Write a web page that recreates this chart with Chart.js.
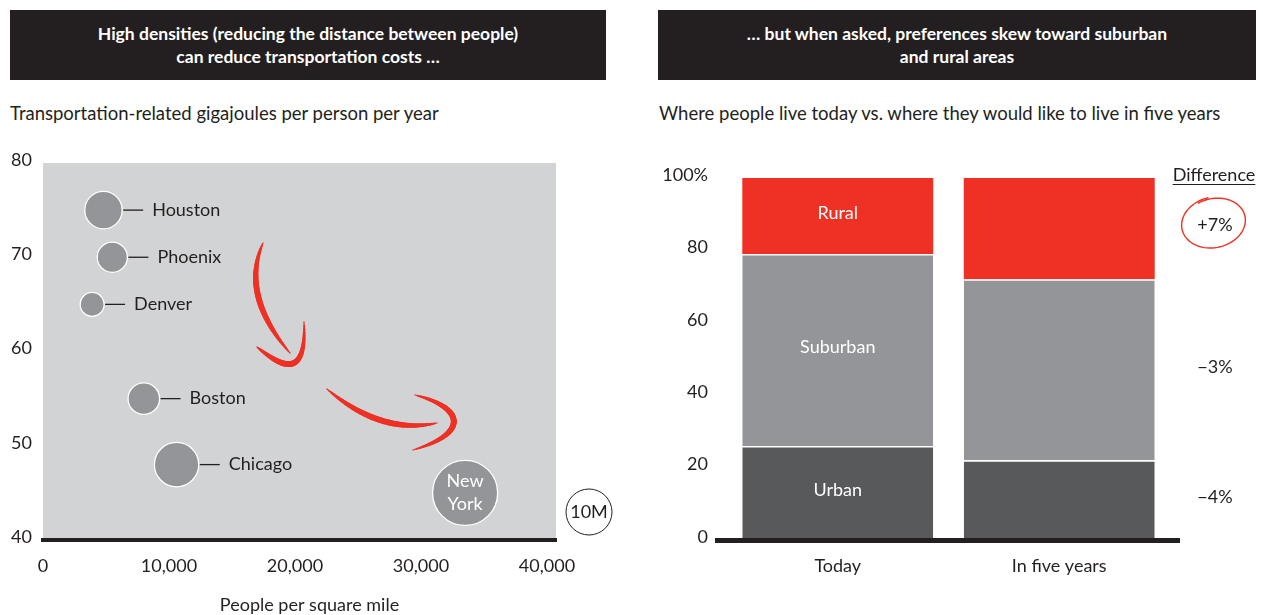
<!DOCTYPE html>
<html>
<head>
<meta charset="utf-8">
<script src="https://cdn.jsdelivr.net/npm/chart.js@4.4.1/dist/chart.umd.min.js"></script>
<style>
  body { margin: 0; width: 1263px; height: 615px; background: #fff; position: relative; overflow: hidden;
         font-family: Lato, "Noto Sans", sans-serif; color: #231f20; }
  .hdr { position: absolute; top: 10px; height: 70px; background: #231f20; color: #fff;
         font-weight: 700; font-size: 17.5px; line-height: 23px; text-align: center;
         display: flex; align-items: center; justify-content: center; }
  .sub { position: absolute; top: 101px; font-size: 18.5px; line-height: 24px; white-space: nowrap; }
  canvas { position: absolute; }
</style>
</head>
<body>
<div class="hdr" style="left:10px; width:596px;">High densities (reducing the distance between people)<br>can reduce transportation costs …</div>
<div class="hdr" style="left:658px; width:598px;">… but when asked, preferences skew toward suburban<br>and rural areas</div>
<div class="sub" style="left:10px;">Transportation-related gigajoules per person per year</div>
<div class="sub" style="left:659px;">Where people live today vs. where they would like to live in five years</div>
<canvas id="density" width="630" height="495" style="left:0px; top:120px;"></canvas>
<canvas id="prefs" width="623" height="475" style="left:640px; top:140px;"></canvas>
<script>
// 왼쪽: 도시별 인구밀도 vs 교통 에너지
const cities = ['Houston', 'Phoenix', 'Denver', 'Boston', 'Chicago', 'New York'];
const peoplePerSqMile = [4800, 5500, 3900, 8000, 10600, 33500];
const gigajoules = [75, 70, 65, 55, 48, 45];
const populationM = [6.6, 4.3, 2.7, 4.7, 9.3, 20.0];
const densityTicks = [0, 10000, 20000, 30000, 40000];
const legendPopM = 10;

// 오른쪽: 현재 vs 5년 후 거주 희망
const periods = ['Today', 'In five years'];
const areaNames = ['Urban', 'Suburban', 'Rural'];
const urbanShare = [26, 22];
const suburbanShare = [53, 50];
const ruralShare = [21, 28];
const shareTicks = [0, 20, 40, 60, 80, 100];

const ink = '#231f20';
const red = '#ee3124';
const fontFamily = 'Lato, "Noto Sans", sans-serif';
const labelSize = 18;
const numberFormatter = new Intl.NumberFormat('en-US');

Chart.defaults.font.family = fontFamily;
Chart.defaults.color = ink;

// 면적 비례: 10M 범례 원 반지름 23px 기준
const radiusFor = (pop) => 23 * Math.sqrt(pop / legendPopM);

// 붓 터치 느낌의 곡선
function brush(ctx, pts, width) {
    const steps = 48;
    const at = (t) => {
        const u = 1 - t;
        if (pts.length === 3) {
            return {
                x: u * u * pts[0][0] + 2 * u * t * pts[1][0] + t * t * pts[2][0],
                y: u * u * pts[0][1] + 2 * u * t * pts[1][1] + t * t * pts[2][1]
            };
        }
        return {
            x: u * u * u * pts[0][0] + 3 * u * u * t * pts[1][0] + 3 * u * t * t * pts[2][0] + t * t * t * pts[3][0],
            y: u * u * u * pts[0][1] + 3 * u * u * t * pts[1][1] + 3 * u * t * t * pts[2][1] + t * t * t * pts[3][1]
        };
    };
    let prev = at(0);
    for (let i = 1; i <= steps; i += 1) {
        const t = i / steps;
        const p = at(t);
        ctx.lineWidth = 0.6 + width * Math.pow(Math.sin(Math.PI * (t - 0.5 / steps)), 0.6);
        ctx.beginPath();
        ctx.moveTo(prev.x, prev.y);
        ctx.lineTo(p.x, p.y);
        ctx.stroke();
        prev = p;
    }
}

const plotBackground = {
    id: 'plotBackground',
    beforeDraw(chart) {
        const { ctx, chartArea } = chart;
        ctx.save();
        ctx.fillStyle = '#d1d3d4';
        ctx.fillRect(chartArea.left, chartArea.top, chartArea.right - chartArea.left, chartArea.bottom - chartArea.top);
        ctx.restore();
    }
};

const redArrows = {
    id: 'redArrows',
    beforeDatasetsDraw(chart) {
        const { ctx, chartArea } = chart;
        const L = chartArea.left;
        const T = chartArea.top;
        const shift = (list) => list.map(([x, y]) => [L + x, T + y]);
        ctx.save();
        ctx.strokeStyle = red;
        ctx.lineCap = 'round';
        brush(ctx, shift([[220, 80], [197, 132], [247, 190]]), 5.2);
        brush(ctx, shift([[214, 184], [234, 200], [264, 222], [261, 159]]), 5.2);
        brush(ctx, shift([[284, 226], [338, 272], [394, 260]]), 5.2);
        brush(ctx, shift([[372, 232], [420, 244], [428, 270], [370, 287]]), 5.2);
        ctx.restore();
    }
};

const bubbleLabels = {
    id: 'bubbleLabels',
    afterDatasetsDraw(chart) {
        const { ctx, chartArea } = chart;
        const meta = chart.getDatasetMeta(0);
        ctx.save();
        ctx.font = `${labelSize}px ${fontFamily}`;
        ctx.textBaseline = 'middle';
        meta.data.forEach((pt, i) => {
            const { x, y } = pt.getProps(['x', 'y'], true);
            const r = radiusFor(populationM[i]);
            if (cities[i] === 'New York') {
                ctx.fillStyle = '#ffffff';
                ctx.textAlign = 'center';
                ctx.fillText('New', x, y - 12);
                ctx.fillText('York', x, y + 11);
                return;
            }
            ctx.strokeStyle = ink;
            ctx.lineWidth = 1.3;
            ctx.beginPath();
            ctx.moveTo(x + r + 1, y);
            ctx.lineTo(x + r + 21, y);
            ctx.stroke();
            ctx.fillStyle = ink;
            ctx.textAlign = 'left';
            ctx.fillText(cities[i], x + r + 30, y);
        });

        // 10M 범례 원
        const lr = radiusFor(legendPopM);
        const lx = chartArea.right + 33;
        const ly = chartArea.bottom - 28;
        ctx.beginPath();
        ctx.arc(lx, ly, lr, 0, Math.PI * 2);
        ctx.fillStyle = '#ffffff';
        ctx.fill();
        ctx.strokeStyle = ink;
        ctx.lineWidth = 1;
        ctx.stroke();
        ctx.fillStyle = ink;
        ctx.textAlign = 'center';
        ctx.fillText(`${legendPopM}M`, lx, ly);

        // x축 제목
        ctx.fillText('People per square mile', (chartArea.left + chartArea.right) / 2 + 10, chartArea.bottom + 65);
        ctx.restore();
    }
};

new Chart(document.getElementById('density'), {
    type: 'bubble',
    plugins: [plotBackground, redArrows, bubbleLabels],
    data: {
        datasets: [{
            data: cities.map((c, i) => ({ x: peoplePerSqMile[i], y: gigajoules[i], r: radiusFor(populationM[i]) })),
            backgroundColor: '#939598',
            borderColor: '#ffffff',
            borderWidth: 1.3,
            clip: false
        }]
    },
    options: {
        responsive: false,
        animation: false,
        events: [],
        layout: { padding: { top: 43, right: 74, bottom: 0, left: 0 } },
        plugins: { legend: { display: false }, tooltip: { enabled: false } },
        scales: {
            x: {
                type: 'linear',
                min: densityTicks[0],
                max: 40714,
                afterBuildTicks(scale) { scale.ticks = densityTicks.map((v) => ({ value: v })); },
                afterFit(scale) { scale.height = 75; },
                grid: { display: false, drawTicks: false },
                border: { display: true, color: ink, width: 4 },
                ticks: {
                    padding: 15,
                    font: { size: labelSize },
                    color: ink,
                    callback(value) { return numberFormatter.format(value); }
                }
            },
            y: {
                type: 'linear',
                min: 40,
                max: 80,
                afterFit(scale) { scale.width = 43; },
                grid: { display: false, drawTicks: false },
                border: { display: false },
                ticks: { stepSize: 10, padding: 11, labelOffset: -3, font: { size: labelSize }, color: ink }
            }
        }
    }
});

// 오른쪽 차트: 막대 안 라벨, 차이 열, 기준선
const barAnnotations = {
    id: 'barAnnotations',
    afterDatasetsDraw(chart) {
        const { ctx, chartArea, scales } = chart;
        const y = scales.y;
        const shares = [urbanShare, suburbanShare, ruralShare];
        ctx.save();

        // 기준선 (막대 영역보다 양옆으로 길게)
        ctx.fillStyle = ink;
        ctx.fillRect(chartArea.left - 12, chartArea.bottom - 2, chartArea.right - chartArea.left + 22, 5);

        ctx.font = `${labelSize}px ${fontFamily}`;
        ctx.textBaseline = 'middle';
        ctx.textAlign = 'center';

        // 첫 막대 안 라벨
        const todayX = scales.x.getPixelForValue(0);
        let base = 0;
        shares.forEach((s, k) => {
            ctx.fillStyle = '#ffffff';
            ctx.fillText(areaNames[k], todayX, y.getPixelForValue(base + s[0] / 2) - 3);
            base += s[0];
        });

        // Difference 열
        const diffX = chartArea.right + 44;
        ctx.fillStyle = ink;
        const headY = y.getPixelForValue(100) - 3;
        ctx.fillText('Difference', diffX, headY);
        const w = ctx.measureText('Difference').width;
        ctx.fillRect(diffX - w / 2, headY + 9, w, 1);

        base = 0;
        shares.forEach((s, k) => {
            const d = s[1] - s[0];
            const label = (d > 0 ? '+' : '\u2212') + Math.abs(d) + '%';
            const cy = y.getPixelForValue(base + s[1] / 2) - 3;
            ctx.fillStyle = ink;
            ctx.fillText(label, diffX + 1, cy);
            if (d > 0) {
                // 손으로 그린 빨간 타원
                ctx.strokeStyle = red;
                ctx.lineWidth = 1.4;
                ctx.beginPath();
                const start = -Math.PI * 0.62;
                const sweep = Math.PI * 2.12;
                for (let i = 0; i <= 80; i += 1) {
                    const a = start + sweep * i / 80;
                    const grow = 1 + 0.07 * i / 80;
                    const ex = 31 * grow * Math.cos(a);
                    const ey = 24 * grow * Math.sin(a);
                    const rot = -0.22;
                    const px = diffX + ex * Math.cos(rot) - ey * Math.sin(rot);
                    const py = cy - 3 + ex * Math.sin(rot) + ey * Math.cos(rot);
                    if (i === 0) ctx.moveTo(px, py); else ctx.lineTo(px, py);
                }
                ctx.stroke();
            }
            base += s[1];
        });
        ctx.restore();
    }
};

const segmentColors = ['#58595b', '#939598', red];

new Chart(document.getElementById('prefs'), {
    type: 'bar',
    plugins: [barAnnotations],
    data: {
        labels: periods,
        datasets: [urbanShare, suburbanShare, ruralShare].map((values, k) => ({
            label: areaNames[k],
            data: values,
            backgroundColor: segmentColors[k],
            borderColor: '#ffffff',
            borderWidth: k < 2 ? { top: 1.5, left: 0, right: 0, bottom: 0 } : 0,
            borderSkipped: false,
            categoryPercentage: 1,
            barPercentage: 0.862
        }))
    },
    options: {
        responsive: false,
        animation: false,
        events: [],
        layout: { padding: { top: 38, right: 93, bottom: 0, left: 0 } },
        plugins: { legend: { display: false }, tooltip: { enabled: false } },
        scales: {
            x: {
                stacked: true,
                afterFit(scale) { scale.height = 75; },
                grid: { display: false, drawTicks: false },
                border: { display: false },
                ticks: { padding: 15, font: { size: labelSize }, color: ink }
            },
            y: {
                stacked: true,
                min: shareTicks[0],
                max: shareTicks[shareTicks.length - 1],
                afterFit(scale) { scale.width = 87; },
                afterBuildTicks(scale) { scale.ticks = shareTicks.map((v) => ({ value: v })); },
                grid: { display: false, drawTicks: false },
                border: { display: false },
                ticks: {
                    padding: 19,
                    labelOffset: -3,
                    font: { size: labelSize },
                    color: ink,
                    callback(value) { return value === 100 ? '100%' : value; }
                }
            }
        }
    }
});
</script>
</body>
</html>
